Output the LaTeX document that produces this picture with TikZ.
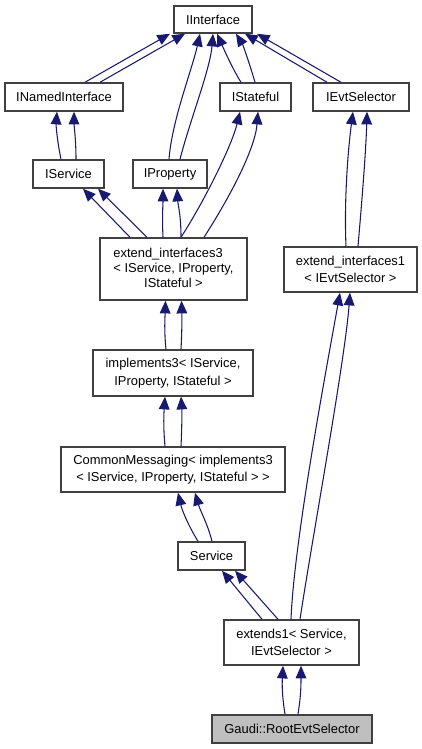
\documentclass[tikz,border=0pt]{standalone}
\usepackage{fontspec}
\setmainfont{Liberation Sans}
\usetikzlibrary{arrows.meta,calc}
\definecolor{edgeblue}{HTML}{191970}
\definecolor{boxline}{HTML}{404040}
\definecolor{graybox}{HTML}{BFBFBF}
\begin{document}
\begin{tikzpicture}[x=0.75pt,y=-0.75pt,
  box/.style={draw=boxline,line width=1.1pt,fill=white,inner sep=0pt,align=center,
    font=\fontsize{9.7}{13}\selectfont},
  inh/.style={draw=edgeblue,line width=0.8pt,
    -{Triangle[length=9.5pt,width=8pt,fill=edgeblue]}}]
\useasboundingbox (0,0) rectangle (421,749);
% nodes
\node[box,minimum width=78*0.75pt,minimum height=27*0.75pt] (iint) at (213,19.5) {IInterface};
\node[box,minimum width=118*0.75pt,minimum height=28*0.75pt] (inamed) at (64,97) {INamedInterface};
\node[box,minimum width=71*0.75pt,minimum height=28*0.75pt] (istateful) at (255.5,97) {IStateful};
\node[box,minimum width=96*0.75pt,minimum height=28*0.75pt] (ievt) at (361,97) {IEvtSelector};
\node[box,minimum width=71*0.75pt,minimum height=28*0.75pt] (iservice) at (68.5,174) {IService};
\node[box,minimum width=74*0.75pt,minimum height=28*0.75pt] (iprop) at (170,174) {IProperty};
\node[box,minimum width=147*0.75pt,minimum height=62*0.75pt] (ei3) at (173.5,269)
  {\begin{tabular}{@{}l@{}}extend\_interfaces3\\[-2pt] < IService, IProperty,\\[-2pt] \multicolumn{1}{@{}c@{}}{IStateful >}\end{tabular}};
\node[box,minimum width=133*0.75pt,minimum height=45*0.75pt] (ei1) at (350.5,269.5)
  {extend\_interfaces1\\ < IEvtSelector >};
\node[box,minimum width=160*0.75pt,minimum height=46*0.75pt] (impl3) at (173,373)
  {implements3< IService,\\ IProperty, IStateful >};
\node[box,minimum width=224*0.75pt,minimum height=45*0.75pt] (cm) at (173,469.5)
  {CommonMessaging< implements3\\ < IService, IProperty, IStateful > >};
\node[box,minimum width=67*0.75pt,minimum height=28*0.75pt] (service) at (211.5,556) {Service};
\node[box,minimum width=135*0.75pt,minimum height=45*0.75pt] (ext1) at (291.5,642.5)
  {extends1< Service,\\ IEvtSelector >};
\node[box,fill=graybox,minimum width=160*0.75pt,minimum height=28*0.75pt] (gaudi) at (292,729) {Gaudi::RootEvtSelector};
% edges
\draw[inh] ($(inamed.north)+(21,0)$) -- ($(iint.south)+(-43,0)$);
\draw[inh] ($(inamed.north)+(36,0)$) -- ($(iint.south)+(-28,0)$);
\draw[inh] ($(iprop.north)+(-1,0)$) .. controls (172,120) and (192,70) .. ($(iint.south)+(-13,0)$);
\draw[inh] ($(iprop.north)+(10,0)$) .. controls (190,120) and (210,70) .. ($(iint.south)+(0,0)$);
\draw[inh] ($(istateful.north)+(-14.5,0)$) .. controls (232,68) and (222,45) .. ($(iint.south)+(4,0)$);
\draw[inh] ($(istateful.north)+(-0.5,0)$) .. controls (250,65) and (243,45) .. ($(iint.south)+(23,0)$);
\draw[inh] ($(ievt.north)+(-34,0)$) -- ($(iint.south)+(32,0)$);
\draw[inh] ($(ievt.north)+(-20,0)$) -- ($(iint.south)+(44,0)$);
\draw[inh] ($(iservice.north)+(-7.5,0)$) .. controls (57,140) and (56,125) .. ($(inamed.south)+(-7,0)$);
\draw[inh] ($(iservice.north)+(7.5,0)$) .. controls (76,140) and (74,125) .. ($(inamed.south)+(10,0)$);
\draw[inh] ($(ei1.north)+(-4.5,0)$) .. controls (344,200) and (348,150) .. ($(ievt.south)+(-8,0)$);
\draw[inh] ($(ei1.north)+(7.5,0)$) .. controls (362,200) and (366,150) .. ($(ievt.south)+(6,0)$);
\draw[inh] ($(ei3.north)+(-43.5,0)$) -- ($(iservice.south)+(14.5,0)$);
\draw[inh] ($(ei3.north)+(-26.5,0)$) -- ($(iservice.south)+(29.5,0)$);
\draw[inh] ($(ei3.north)+(-10.5,0)$) .. controls (162,215) and (163,205) .. ($(iprop.south)+(-7,0)$);
\draw[inh] ($(ei3.north)+(7.5,0)$) .. controls (181,215) and (178,205) .. ($(iprop.south)+(7,0)$);
\draw[inh] ($(ei3.north)+(7.5,0)$) .. controls (205,200) and (232,145) .. ($(istateful.south)+(-15.5,0)$);
\draw[inh] ($(ei3.north)+(30.5,0)$) .. controls (228,200) and (255,150) .. ($(istateful.south)+(2.5,0)$);
\draw[inh] ($(impl3.north)+(-7,0)$) .. controls (164,330) and (165,318) .. ($(ei3.south)+(-8,0)$);
\draw[inh] ($(impl3.north)+(8,0)$) .. controls (182,330) and (182,318) .. ($(ei3.south)+(8,0)$);
\draw[inh] ($(cm.north)+(-8,0)$) .. controls (163,425) and (164,412) .. ($(impl3.south)+(-8,0)$);
\draw[inh] ($(cm.north)+(8,0)$) .. controls (182,425) and (182,412) .. ($(impl3.south)+(8,0)$);
\draw[inh] ($(service.north)+(-13.5,0)$) .. controls (188,525) and (182,510) .. ($(cm.south)+(5,0)$);
\draw[inh] ($(service.north)+(0.5,0)$) .. controls (208,525) and (200,510) .. ($(cm.south)+(22,0)$);
\draw[inh] ($(ext1.north)+(-29.5,0)$) -- ($(service.south)+(10.5,0)$);
\draw[inh] ($(ext1.north)+(-13.5,0)$) -- ($(service.south)+(23.5,0)$);
\draw[inh] ($(ext1.north)+(-0.5,0)$) .. controls (294,540) and (328,360) .. ($(ei1.south)+(-10.5,0)$);
\draw[inh] ($(ext1.north)+(8.5,0)$) .. controls (312,540) and (345,360) .. ($(ei1.south)+(-0.5,0)$);
\draw[inh] ($(gaudi.north)+(-7,0)$) .. controls (282,695) and (282,685) .. ($(ext1.south)+(-8.5,0)$);
\draw[inh] ($(gaudi.north)+(6,0)$) .. controls (301,695) and (301,685) .. ($(ext1.south)+(9.5,0)$);
\end{tikzpicture}
\end{document}
